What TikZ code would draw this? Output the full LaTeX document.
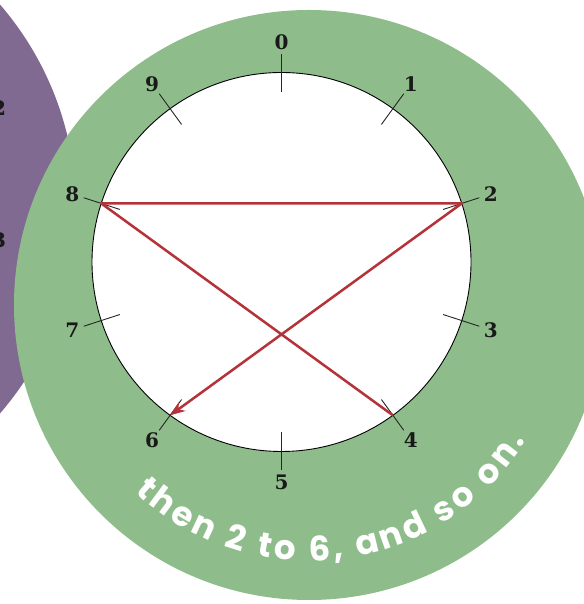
\documentclass[tikz,border=0pt]{standalone}
\usepackage{fontspec}
\usetikzlibrary{arrows.meta,decorations.text}
\newfontfamily\arcfont{Poppins}
\newfontfamily\digitfont{DejaVu Serif}
\definecolor{gbg}{RGB}{142,189,139}
\definecolor{pbg}{RGB}{129,106,145}
\definecolor{redl}{RGB}{181,50,56}
\begin{document}
\begin{tikzpicture}[x=1pt,y=1pt,
  tickline/.style={line width=0.9pt, black!85},
  digit/.style={font=\digitfont\bfseries\fontsize{20}{20}\selectfont, text=black!90, inner sep=0pt},
  redline/.style={redl, line width=2.5pt, line join=round}]
\useasboundingbox (0,0) rectangle (583,604);
% background discs
\fill[pbg] (-237,395) circle[radius=313];
\node[digit] (q2) at (-1,496) {2};
\node[digit] (q3) at (-1,364) {3};
\coordinate (G) at (309,299);
\fill[gbg] (G) circle[radius=295];
% dial
\coordinate (C) at (281.5,342);
\filldraw[fill=white, draw=black, line width=0.9pt] (C) circle[radius=189.5];
\foreach \k in {0,...,9} {
  \pgfmathsetmacro\ang{90-36*\k}
  \path (C) ++(\ang:189.5) coordinate (p\k);
  \path (C) ++(\ang:170) coordinate (ti\k);
  \path (C) ++(\ang:208) coordinate (to\k);
  \draw[tickline] (ti\k) -- (to\k);
  \path (C) ++(\ang:220) node[digit] (l\k) {\k};
}
% red path
\draw[redline, -{Stealth[length=15pt,width=11pt]}] (p4) -- (p8) -- (p2) -- (p6);
% curved caption
\path[decorate, decoration={text along path, text align=fit to path,
  text={|\arcfont\bfseries\fontsize{34}{34}\selectfont\color{white}|then 2 to 6, and so on.}}]
  (G) ++(-133:256) arc[start angle=-133, end angle=-32, radius=256];
\end{tikzpicture}
\end{document}
